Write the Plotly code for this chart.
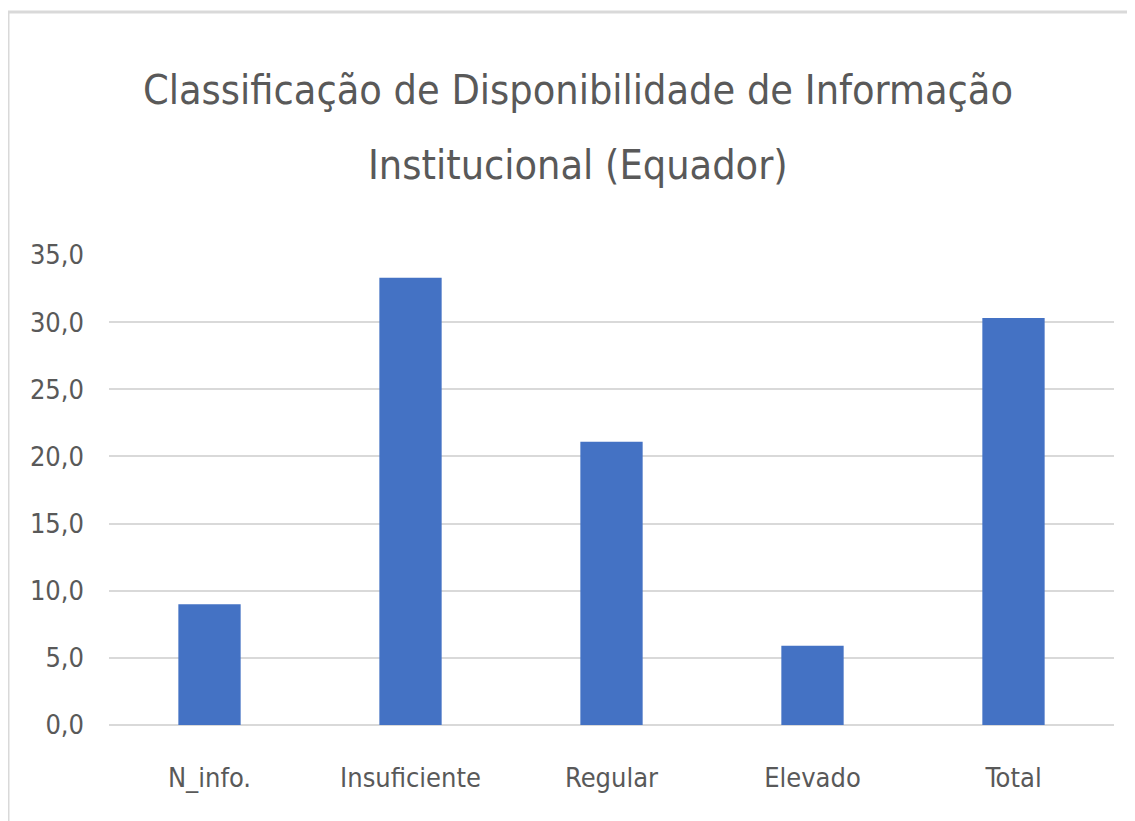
import plotly.graph_objects as go

categories = ["N_info.", "Insuficiente", "Regular", "Elevado", "Total"]
values = [9.0, 33.3, 21.1, 5.9, 30.3]
title_lines = ["Classificação de Disponibilidade de Informação", "Institucional (Equador)"]
y_ticks = [0, 5, 10, 15, 20, 25, 30, 35]

FONT = "Liberation Sans Narrow, Arial Narrow, DejaVu Sans Condensed, sans-serif"
OFF = 8  # page body margin
W, H = 1135 - OFF, 821 - OFF
# plot area in screen pixels
PX0, PX1, PY0, PY1 = 109, 1114, 255, 725
L, R = PX0 - OFF, (W + OFF) - PX1
T, B = PY0 - OFF, (H + OFF) - PY1
pw, ph = PX1 - PX0, PY1 - PY0


def px_x(x):
    return (x - PX0) / pw


def px_y(y):
    return (PY1 - y) / ph


fig = go.Figure(
    go.Bar(x=categories, y=values, marker=dict(color="#4472C4", line=dict(width=0)))
)

fig.update_layout(
    width=W,
    height=H,
    margin=dict(l=L, r=R, t=T, b=B, pad=0),
    paper_bgcolor="white",
    plot_bgcolor="white",
    bargap=0.69,
    separators=",.",
    showlegend=False,
    font=dict(family=FONT, color="#595959", size=27),
)

fig.update_yaxes(
    range=[0, 35],
    tickvals=y_ticks,
    tickformat=".1f",
    showgrid=True,
    gridcolor="#d9d9d9",
    gridwidth=1.5,
    zeroline=True,
    zerolinecolor="#d9d9d9",
    zerolinewidth=1.5,
    showline=False,
    ticks="",
    ticklabelstandoff=24,
    tickfont=dict(family=FONT, size=27, color="#595959"),
)
fig.update_xaxes(
    showgrid=False,
    showline=False,
    ticks="",
    ticklabelstandoff=34,
    tickfont=dict(family=FONT, size=27, color="#595959"),
)

for txt, yc in zip(title_lines, [90, 165]):
    fig.add_annotation(
        text=txt,
        xref="paper",
        yref="paper",
        x=px_x(578),
        y=px_y(yc),
        xanchor="center",
        yanchor="middle",
        showarrow=False,
        font=dict(family=FONT, size=41, color="#595959"),
    )

# chart border
fig.add_shape(
    type="rect",
    xref="paper",
    yref="paper",
    x0=px_x(8),
    x1=px_x(1145),
    y0=px_y(835),
    y1=px_y(12),
    line=dict(color="#d9d9d9", width=3),
    fillcolor="rgba(0,0,0,0)",
    layer="below",
)

fig.write_html("out.html")
